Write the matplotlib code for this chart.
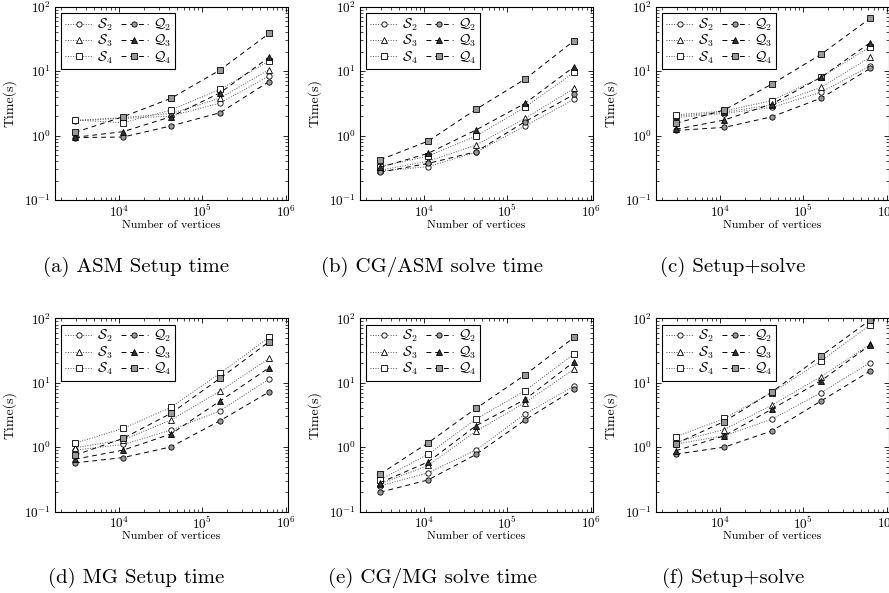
import matplotlib.pyplot as plt

plt.rcParams['font.family'] = 'serif'
plt.rcParams['font.serif'] = ['cmr10']
plt.rcParams['mathtext.fontset'] = 'cm'
plt.rcParams['axes.formatter.use_mathtext'] = True
plt.rcParams['axes.unicode_minus'] = False

# mesh sizes (number of vertices)
vertices = [2.95e3, 1.12e4, 4.2e4, 1.63e5, 6.35e5]

series = ['S2', 'S3', 'S4', 'Q2', 'Q3', 'Q4']
labels = [r'$\mathcal{S}_2$', r'$\mathcal{S}_3$', r'$\mathcal{S}_4$',
          r'$\mathcal{Q}_2$', r'$\mathcal{Q}_3$', r'$\mathcal{Q}_4$']

# timings in seconds
asm_setup = {
    'S2': [1.70, 1.85, 2.00, 3.20, 8.4],
    'S3': [1.72, 1.90, 2.20, 3.80, 10.6],
    'S4': [1.75, 1.58, 2.49, 5.20, 14.4],
    'Q2': [0.93, 0.95, 1.41, 2.26, 6.9],
    'Q3': [0.94, 1.15, 1.96, 4.60, 16.4],
    'Q4': [1.12, 1.96, 3.78, 10.4, 38.5],
}
asm_solve = {
    'S2': [0.28, 0.33, 0.55, 1.41, 3.65],
    'S3': [0.29, 0.40, 0.71, 1.85, 5.4],
    'S4': [0.33, 0.48, 0.98, 2.74, 9.6],
    'Q2': [0.27, 0.37, 0.56, 1.64, 4.36],
    'Q3': [0.32, 0.53, 1.22, 3.16, 11.7],
    'Q4': [0.42, 0.82, 2.55, 7.5, 29.7],
}
asm_total = {
    'S2': [1.91, 2.20, 2.74, 4.7, 12.0],
    'S3': [2.00, 2.30, 3.00, 5.6, 16.4],
    'S4': [2.10, 2.40, 3.50, 8.0, 23.9],
    'Q2': [1.20, 1.34, 1.96, 3.8, 11.0],
    'Q3': [1.25, 1.74, 3.10, 8.0, 27.6],
    'Q4': [1.55, 2.49, 6.30, 18.2, 66.0],
}
mg_setup = {
    'S2': [0.90, 1.10, 1.84, 3.67, 11.4],
    'S3': [0.98, 1.30, 2.64, 7.4, 23.9],
    'S4': [1.15, 1.96, 4.15, 14.0, 50.7],
    'Q2': [0.57, 0.69, 1.01, 2.57, 7.2],
    'Q3': [0.65, 0.90, 1.60, 5.2, 17.1],
    'Q4': [0.75, 1.37, 3.35, 11.7, 43.3],
}
mg_solve = {
    'S2': [0.25, 0.40, 0.90, 3.26, 8.9],
    'S3': [0.27, 0.52, 1.77, 4.9, 16.3],
    'S4': [0.31, 0.78, 2.72, 7.5, 27.9],
    'Q2': [0.20, 0.31, 0.77, 2.63, 7.9],
    'Q3': [0.28, 0.59, 2.15, 5.5, 21.2],
    'Q4': [0.38, 1.17, 3.99, 13.2, 50.7],
}
mg_total = {
    'S2': [1.12, 1.50, 2.72, 7.0, 20.5],
    'S3': [1.20, 1.88, 4.50, 12.4, 39.5],
    'S4': [1.45, 2.79, 7.00, 21.7, 79.0],
    'Q2': [0.78, 1.00, 1.79, 5.2, 15.2],
    'Q3': [0.88, 1.50, 3.90, 10.7, 38.5],
    'Q4': [1.14, 2.50, 7.20, 26.0, 94.0],
}

panels = [asm_setup, asm_solve, asm_total, mg_setup, mg_solve, mg_total]
captions = ['(a) ASM Setup time', '(b) CG/ASM solve time', '(c) Setup+solve',
            '(d) MG Setup time', '(e) CG/MG solve time', '(f) Setup+solve']

markers = {'2': 'o', '3': '^', '4': 's'}
q_fill = {'2': '0.6', '3': '0.2', '4': '0.6'}

W, H = 889, 593
fig = plt.figure(figsize=(W / 100, H / 100), dpi=100)

col_left = [55, 360, 656]
row_top = [6.7, 318.3]
ax_w, ax_h = 233, 193.3
cap_x = [136, 432, 733]
cap_y = [267, 578]

for k, data in enumerate(panels):
    r, c = divmod(k, 3)
    ax = fig.add_axes([col_left[c] / W, 1 - (row_top[r] + ax_h) / H, ax_w / W, ax_h / H])
    for name, lab in zip(series, labels):
        order = name[1]
        if name[0] == 'S':
            ax.plot(vertices, data[name], color='0.35', lw=0.7, ls=(0, (1, 1.6)),
                    marker=markers[order], ms=3.8, mfc='white', mec='black', mew=0.6,
                    label=lab)
        else:
            ax.plot(vertices, data[name], color='black', lw=0.7, ls=(0, (5, 4)),
                    marker=markers[order], ms=3.8, mfc=q_fill[order], mec='black', mew=0.6,
                    label=lab)
    ax.set_xscale('log')
    ax.set_yscale('log')
    ax.set_xlim(1.7e3, 1.07e6)
    ax.set_ylim(0.1, 100)
    ax.set_xticks([1e4, 1e5, 1e6])
    ax.set_yticks([0.1, 1, 10, 100])
    ax.tick_params(which='both', direction='in', top=True, right=True, labelsize=9.5, pad=3)
    ax.tick_params(which='major', length=3.6, width=0.6)
    ax.tick_params(which='minor', length=2.0, width=0.5)
    for sp in ax.spines.values():
        sp.set_linewidth(0.8)
    ax.set_xlabel('Number of vertices', fontsize=8.5)
    ax.set_ylabel('Time(s)', fontsize=10)
    ax.xaxis.set_label_coords(0.5, -0.105)
    ax.yaxis.set_label_coords(-0.165, 0.5)
    ax.legend(loc='upper left', ncol=2, fontsize=10, frameon=True, fancybox=False,
              edgecolor='black', framealpha=1, handlelength=2.0, handletextpad=0.3,
              columnspacing=0.6, labelspacing=0.0, borderpad=0.25,
              borderaxespad=0.45).get_frame().set_linewidth(0.8)
    fig.text(cap_x[c] / W, 1 - cap_y[r] / H, captions[k], fontsize=15,
             ha='center', va='center')

fig.savefig('out.png', dpi=100)
